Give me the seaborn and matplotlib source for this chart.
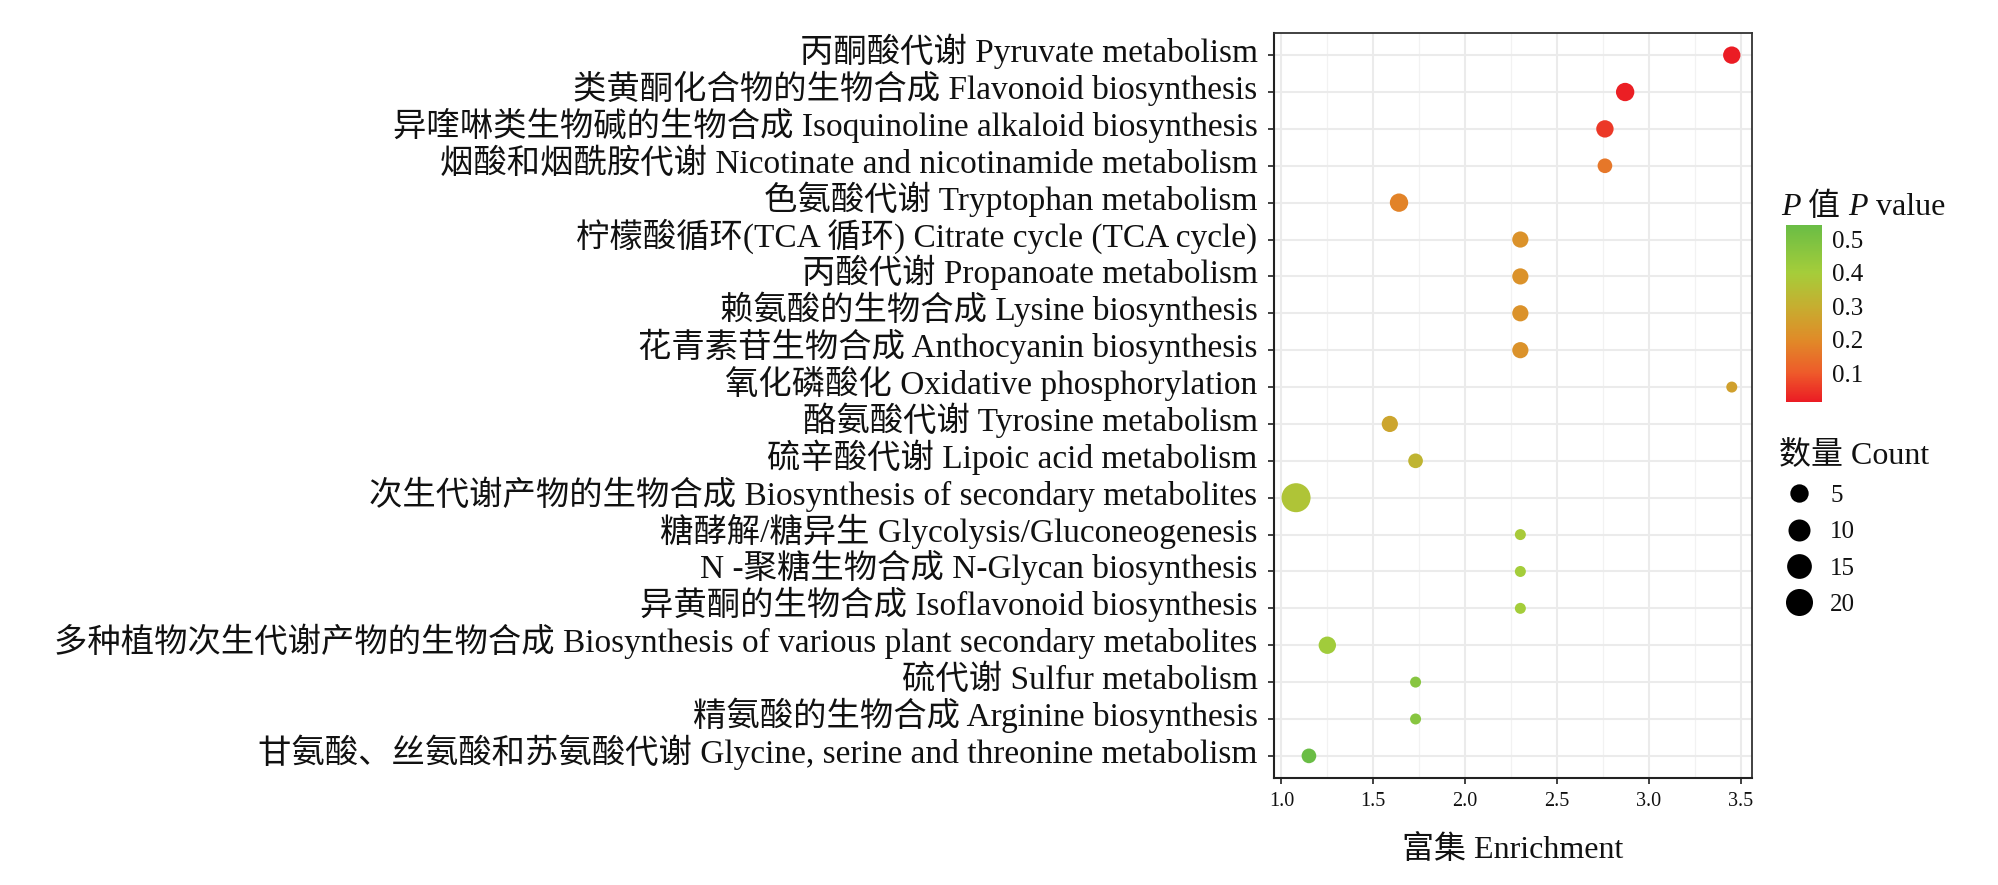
import numpy as np
import pandas as pd
import matplotlib
matplotlib.use("Agg")
import matplotlib.pyplot as plt
import seaborn as sns
from matplotlib.colors import LinearSegmentedColormap, Normalize
from matplotlib.cm import ScalarMappable
from matplotlib.lines import Line2D
from matplotlib.ticker import AutoMinorLocator
from matplotlib.transforms import ScaledTranslation

# ---------------- data ----------------
pathways = [
    "丙酮酸代谢 Pyruvate metabolism",
    "类黄酮化合物的生物合成 Flavonoid biosynthesis",
    "异喹啉类生物碱的生物合成 Isoquinoline alkaloid biosynthesis",
    "烟酸和烟酰胺代谢 Nicotinate and nicotinamide metabolism",
    "色氨酸代谢 Tryptophan metabolism",
    "柠檬酸循环(TCA 循环) Citrate cycle (TCA cycle)",
    "丙酸代谢 Propanoate metabolism",
    "赖氨酸的生物合成 Lysine biosynthesis",
    "花青素苷生物合成 Anthocyanin biosynthesis",
    "氧化磷酸化 Oxidative phosphorylation",
    "酪氨酸代谢 Tyrosine metabolism",
    "硫辛酸代谢 Lipoic acid metabolism",
    "次生代谢产物的生物合成 Biosynthesis of secondary metabolites",
    "糖酵解/糖异生 Glycolysis/Gluconeogenesis",
    "N -聚糖生物合成 N-Glycan biosynthesis",
    "异黄酮的生物合成 Isoflavonoid biosynthesis",
    "多种植物次生代谢产物的生物合成 Biosynthesis of various plant secondary metabolites",
    "硫代谢 Sulfur metabolism",
    "精氨酸的生物合成 Arginine biosynthesis",
    "甘氨酸、丝氨酸和苏氨酸代谢 Glycine, serine and threonine metabolism",
]
enrichment = [3.45, 2.87, 2.76, 2.76, 1.64, 2.30, 2.30, 2.30, 2.30, 3.45,
              1.59, 1.73, 1.08, 2.30, 2.30, 2.30, 1.25, 1.73, 1.73, 1.15]
pvalue = [0.0144, 0.020, 0.055, 0.160, 0.185, 0.220, 0.220, 0.220, 0.220, 0.260,
          0.275, 0.320, 0.370, 0.390, 0.400, 0.400, 0.410, 0.470, 0.470, 0.542]
count = [4, 5, 4, 2, 5, 3, 3, 3, 3, 1,
         3, 2, 25, 1, 1, 1, 4, 1, 1, 2]

x_ticks = [1.0, 1.5, 2.0, 2.5, 3.0, 3.5]
p_ticks = [0.1, 0.2, 0.3, 0.4, 0.5]
size_breaks = [5, 10, 15, 20]

# colour stops of the P-value gradient (p, colour)
p_stops = [0.0144, 0.1, 0.2, 0.3, 0.4, 0.542]
p_colors = ["#EB1C24", "#EE5A2A", "#E08B28", "#C6AE30", "#A5CD3A", "#6ABD45"]

# ---------------- style ----------------
sns.set_theme(style="white")
FAM = ["Liberation Serif", "Noto Sans CJK SC"]
plt.rcParams["font.family"] = FAM

W, H = 1998, 885
fig = plt.figure(figsize=(W / 100, H / 100), dpi=100)
fig.patch.set_facecolor("white")
ax = fig.add_axes([1274 / W, 1 - 778 / H, (1752 - 1274) / W, (778 - 33) / H])

df = pd.DataFrame({"pathway": pathways, "enrichment": enrichment,
                   "pvalue": pvalue, "count": count})

pmin, pmax = min(pvalue), max(pvalue)
norm = Normalize(vmin=pmin, vmax=pmax)
cmap = LinearSegmentedColormap.from_list(
    "pv", [((p - pmin) / (pmax - pmin), c) for p, c in zip(p_stops, p_colors)])

cmin, cmax = min(count), max(count)


def diam_px(v):
    return 11 + 18 * np.sqrt((v - cmin) / (cmax - cmin))


sizes = {v: (diam_px(v) * 0.72) ** 2 for v in sorted(set(count))}

sns.scatterplot(data=df, x="enrichment", y="pathway", hue="pvalue",
                palette=cmap, hue_norm=norm, size="count", sizes=sizes,
                linewidth=0, legend=False, ax=ax, zorder=3)

n = len(pathways)
ax.set_ylim(n - 0.4, -0.6)
ax.set_xlim(0.96, 3.56)
ax.set_xticks(x_ticks)
ax.set_xticklabels([f"{t:.1f}" for t in x_ticks])
ax.xaxis.set_minor_locator(AutoMinorLocator(2))
ax.set_axisbelow(True)
ax.grid(True, which="major", color="#EBEBEB", lw=1.5)
ax.grid(True, which="minor", axis="x", color="#F2F2F2", lw=0.9)
ax.tick_params(which="minor", length=0)
ax.tick_params(axis="y", which="major", length=4.3, width=1.3, color="#333333",
               labelsize=24, pad=7.5, labelcolor="#111111", left=True)
ax.tick_params(axis="x", which="major", length=4.3, width=1.3, color="#333333",
               labelsize=14.5, pad=5.5, labelcolor="#111111", bottom=True)
for s in ["top", "right"]:
    ax.spines[s].set_color("#333333")
    ax.spines[s].set_linewidth(1.3)
for s in ["left", "bottom"]:
    ax.spines[s].set_color("#222222")
    ax.spines[s].set_linewidth(1.5)

# y labels: baseline slightly below the tick, as in the reference
shift = ScaledTranslation(0, -7 / 100, fig.dpi_scale_trans)
for tk in ax.yaxis.get_major_ticks():
    tk.label1.set_verticalalignment("baseline")
    tk.label1.set_transform(tk.label1.get_transform() + shift)

ax.set_ylabel("")
ax.set_xlabel("富集 Enrichment", fontsize=23, color="#111111")
ax.xaxis.set_label_coords(0.5, -0.077)

# ---------------- colour bar ----------------
cax = fig.add_axes([1786 / W, 1 - 402 / H, 36 / W, 177 / H])
cb = fig.colorbar(ScalarMappable(norm=norm, cmap=cmap), cax=cax, ticks=p_ticks)
cb.outline.set_visible(False)
cax.minorticks_off()
cax.tick_params(axis="y", which="major", direction="in", length=5, width=1,
                color="white", left=True, right=True, labelright=True,
                labelleft=False, labelsize=18, pad=7, labelcolor="#111111")
cax.set_yticklabels([f"{t:.1f}" for t in p_ticks])

# colour bar title: italic P + 值 + italic P + value
t1 = fig.text(1781 / W, 1 - 222 / H, "P", fontsize=23, style="italic",
              color="#111111", va="bottom", ha="left")
t2 = ax.annotate(" 值 ", xy=(1, 0), xycoords=t1, fontsize=23, va="bottom",
                 ha="left", color="#111111", annotation_clip=False)
t3 = ax.annotate("P", xy=(1, 0), xycoords=t2, fontsize=23, style="italic",
                 va="bottom", ha="left", color="#111111", annotation_clip=False)
t4 = ax.annotate(" value", xy=(1, 0), xycoords=t3, fontsize=23, va="bottom",
                 ha="left", color="#111111", annotation_clip=False)

# ---------------- size legend ----------------
handles = [Line2D([], [], marker="o", ls="", color="black", markeredgewidth=0,
                  markersize=diam_px(v) * 0.72) for v in size_breaks]
leg = fig.legend(handles, [str(v) for v in size_breaks], title="数量 Count",
                 loc="upper left", bbox_to_anchor=(1779 / W, 1 - 441 / H),
                 frameon=False, prop={"family": FAM, "size": 18},
                 title_fontproperties={"family": FAM, "size": 23},
                 alignment="left", labelspacing=0.55, handletextpad=0.45,
                 handlelength=1.6, borderpad=0, borderaxespad=0)
for t in leg.get_texts():
    t.set_color("#111111")
leg.get_title().set_color("#111111")

fig.savefig("out.png", dpi=100, facecolor="white")
